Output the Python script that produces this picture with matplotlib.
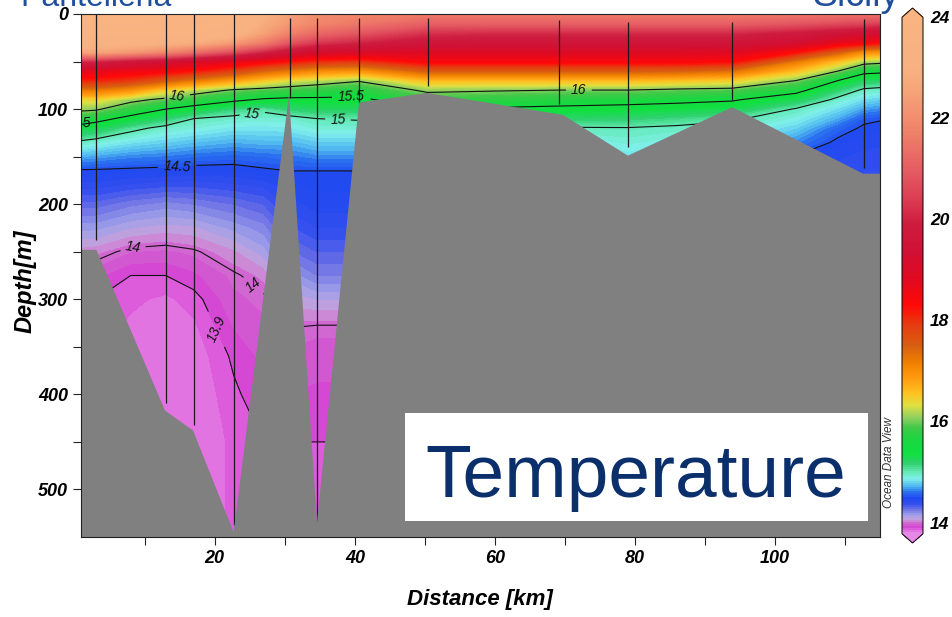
import numpy as np
import matplotlib
matplotlib.use("Agg")
import matplotlib.pyplot as plt
from matplotlib.colors import LinearSegmentedColormap, Normalize
from matplotlib.patches import Rectangle

# section grid: distance along the transect (km) and depth (m)
distance_km = [0.9, 3, 8, 13, 17, 22.7, 27, 30.7, 34.6, 40.6, 50.4, 60, 69.1, 79, 86, 93.9, 103, 109, 112.7, 115]
depth_m = [0, 10, 20, 30, 40, 50, 60, 70, 80, 90, 100, 110, 120, 135, 150, 165, 180, 200,
           225, 250, 275, 300, 330, 360, 400, 450, 500, 550]

# temperature (degC), one profile per distance, from surface to 550 m
temperature = [
    [24.0, 23.85, 23.6, 23.3, 22.5, 20.0, 18.7, 18.1, 17.2, 16.4, 16.07, 15.73, 15.35, 14.95, 14.7, 14.48, 14.4, 14.28, 14.15, 14.04, 13.96, 13.93, 13.92, 13.92, 13.92, 13.92, 13.92, 13.92],
    [24.0, 23.85, 23.6, 23.3, 22.5, 20.0, 18.7, 18.1, 17.2, 16.4, 16.05, 15.64, 15.28, 14.91, 14.68, 14.48, 14.4, 14.28, 14.15, 14.03, 13.95, 13.9, 13.88, 13.88, 13.88, 13.88, 13.88, 13.88],
    [24.0, 23.85, 23.6, 23.2, 22.2, 19.6, 18.55, 17.9, 16.95, 16.1, 15.75, 15.38, 15.06, 14.83, 14.63, 14.47, 14.37, 14.23, 14.1, 13.98, 13.9, 13.87, 13.85, 13.83, 13.83, 13.83, 13.83, 13.83],
    [24.0, 23.8, 23.55, 23.0, 21.8, 19.3, 18.4, 17.5, 16.45, 15.92, 15.5, 15.17, 14.94, 14.78, 14.61, 14.46, 14.35, 14.2, 14.08, 13.97, 13.9, 13.85, 13.83, 13.82, 13.82, 13.83, 13.83, 13.83],
    [24.0, 23.8, 23.5, 22.8, 21.3, 19.0, 18.2, 17.2, 16.2, 15.75, 15.36, 15.0, 14.9, 14.74, 14.58, 14.45, 14.35, 14.22, 14.09, 13.99, 13.93, 13.88, 13.85, 13.83, 13.82, 13.82, 13.82, 13.82],
    [23.7, 23.45, 23.2, 22.3, 20.6, 18.7, 17.8, 16.8, 15.96, 15.58, 15.14, 14.94, 14.84, 14.7, 14.56, 14.45, 14.37, 14.26, 14.15, 14.05, 13.99, 13.97, 13.94, 13.91, 13.89, 13.87, 13.87, 13.87],
    [23.0, 22.75, 22.4, 21.6, 20.0, 18.4, 17.4, 16.5, 15.88, 15.46, 15.04, 14.92, 14.84, 14.72, 14.58, 14.48, 14.39, 14.3, 14.2, 14.12, 14.03, 13.99, 13.97, 13.95, 13.93, 13.9, 13.89, 13.89],
    [22.4, 22.2, 21.7, 20.8, 19.5, 18.2, 17.2, 16.3, 15.83, 15.42, 15.17, 14.93, 14.85, 14.72, 14.6, 14.5, 14.45, 14.4, 14.33, 14.25, 14.15, 14.08, 14.0, 13.97, 13.94, 13.9, 13.89, 13.89],
    [22.0, 21.8, 21.2, 20.3, 19.1, 18.0, 17.0, 16.2, 15.75, 15.43, 15.22, 15.0, 14.91, 14.77, 14.64, 14.5, 14.47, 14.44, 14.38, 14.3, 14.22, 14.1, 13.99, 13.96, 13.93, 13.9, 13.89, 13.88],
    [21.8, 21.5, 20.8, 20.0, 19.0, 17.9, 16.9, 16.03, 15.7, 15.42, 15.22, 15.02, 14.91, 14.77, 14.64, 14.5, 14.47, 14.44, 14.38, 14.3, 14.22, 14.1, 13.99, 13.96, 13.93, 13.9, 13.89, 13.88],
    [21.6, 21.0, 20.2, 19.6, 18.9, 18.4, 17.5, 16.6, 16.07, 15.79, 15.45, 15.23, 15.0, 14.8, 14.6, 14.45, 14.4, 14.35, 14.3, 14.25, 14.2, 14.15, 14.1, 14.05, 14.02, 14.02, 14.02, 14.02],
    [21.6, 21.0, 20.1, 19.57, 18.9, 18.4, 17.5, 16.6, 16.03, 15.74, 15.45, 15.21, 14.98, 14.8, 14.62, 14.48, 14.4, 14.35, 14.3, 14.25, 14.2, 14.15, 14.1, 14.05, 14.02, 14.02, 14.02, 14.02],
    [21.6, 21.0, 20.1, 19.57, 18.9, 18.4, 17.5, 16.6, 16.0, 15.69, 15.41, 15.2, 14.98, 14.82, 14.66, 14.52, 14.42, 14.35, 14.3, 14.25, 14.2, 14.15, 14.1, 14.05, 14.02, 14.02, 14.02, 14.02],
    [21.6, 21.0, 20.1, 19.57, 18.9, 18.4, 17.5, 16.6, 16.0, 15.64, 15.38, 15.17, 14.99, 14.91, 14.83, 14.75, 14.68, 14.6, 14.5, 14.4, 14.3, 14.2, 14.1, 14.05, 14.02, 14.02, 14.02, 14.02],
    [21.6, 21.0, 20.1, 19.57, 18.9, 18.4, 17.45, 16.55, 15.93, 15.6, 15.34, 15.11, 14.96, 14.86, 14.78, 14.7, 14.62, 14.55, 14.5, 14.4, 14.3, 14.2, 14.1, 14.05, 14.02, 14.02, 14.02, 14.02],
    [21.6, 21.0, 20.1, 19.55, 18.85, 18.3, 17.3, 16.45, 15.89, 15.54, 15.28, 15.03, 14.93, 14.82, 14.72, 14.63, 14.55, 14.5, 14.45, 14.4, 14.3, 14.2, 14.1, 14.05, 14.02, 14.02, 14.02, 14.02],
    [21.5, 20.8, 19.8, 19.2, 18.27, 17.2, 16.56, 16.0, 15.62, 15.27, 14.98, 14.88, 14.78, 14.63, 14.49, 14.45, 14.42, 14.4, 14.35, 14.3, 14.25, 14.2, 14.15, 14.1, 14.05, 14.02, 14.02, 14.02],
    [21.45, 20.6, 19.5, 18.68, 17.5, 16.55, 16.0, 15.5, 15.17, 14.94, 14.81, 14.69, 14.56, 14.47, 14.43, 14.4, 14.38, 14.35, 14.3, 14.25, 14.2, 14.15, 14.1, 14.05, 14.02, 14.02, 14.02, 14.02],
    [21.4, 20.5, 19.3, 18.5, 17.0, 16.15, 15.61, 15.23, 14.96, 14.81, 14.67, 14.53, 14.48, 14.44, 14.4, 14.38, 14.37, 14.35, 14.3, 14.25, 14.2, 14.15, 14.1, 14.05, 14.02, 14.02, 14.02, 14.02],
    [21.4, 20.4, 19.2, 18.3, 16.9, 16.1, 15.58, 15.2, 14.93, 14.78, 14.64, 14.51, 14.47, 14.43, 14.4, 14.38, 14.37, 14.35, 14.3, 14.25, 14.2, 14.15, 14.1, 14.05, 14.02, 14.02, 14.02, 14.02],
]

# sea floor along the section
bottom_km = [0.0, 0.9, 3.1, 12.9, 16.9, 22.7, 30.6, 34.6, 40.6, 50.3, 69.7, 79.0, 93.9, 112.6, 116.0]
bottom_depth = [248, 248, 248, 417, 438, 545, 85, 535, 93, 83, 106, 149, 98, 168, 168]

# CTD casts
station_km = [3.0, 13.0, 17.0, 22.7, 30.7, 34.6, 40.6, 50.4, 69.1, 79.0, 93.9, 112.7]
station_top = [0, 0, 0, 0, 4, 4, 4, 4, 6, 8, 8, 5]
station_bottom = [238, 409, 432, 537, 88, 535, 94, 76, 95, 140, 90, 162]

line_levels = [13.9, 14, 14.5, 15, 15.5, 16]
label_pos = [(14.6, 85), (72, 81), (39.5, 86), (25.3, 101), (37.6, 111),
             (14.6, 159), (8.3, 245), (26.0, 281), (20.7, 330)]

# ODV-like palette
pal_t = [13.78, 13.82, 13.86, 13.9, 14.0, 14.04, 14.12, 14.24, 14.34, 14.45, 14.58, 14.7, 14.85,
         15.0, 15.15, 15.35, 15.6, 15.85, 16.05, 16.3, 16.55, 16.85, 17.15, 17.45, 17.85, 18.3,
         18.8, 19.3, 19.9, 20.2, 20.55, 20.9, 21.25, 21.7, 22.1, 22.5, 22.9, 24.0]
pal_c = ['#E688E6', '#E274E2', '#DC5CDC', '#D448D4', '#D070D0', '#C8A0DC', '#A0A0E8', '#6A70E6',
         '#3550EE', '#2048F0', '#2A70F0', '#50B8F0', '#80F0EC', '#60E8B0', '#30D070', '#10E040',
         '#18D840', '#40C848', '#90D060', '#E0E040', '#FFC020', '#FF9A10', '#F08000', '#D86010',
         '#E44010', '#FF0808', '#E00A20', '#D01034', '#CE1C3E', '#D6304C', '#DE4658', '#E55A62',
         '#EA6A66', '#EF8068', '#F39272', '#F6A478', '#F8B080', '#F9B482']
vmin, vmax = 13.78, 24.0
cmap = LinearSegmentedColormap.from_list(
    'odv', [((t - vmin) / (vmax - vmin), c) for t, c in zip(pal_t, pal_c)])
norm = Normalize(vmin, vmax)

font = ['Liberation Sans', 'DejaVu Sans']

X, Y = np.meshgrid(distance_km, depth_m)
T = np.array(temperature).T

fig = plt.figure(figsize=(9.52, 6.17), dpi=100)
ax = fig.add_axes([81 / 952, 1 - 537 / 617, 799 / 952, 523 / 617])

levels = np.arange(vmin, vmax + 0.001, 0.04)
cf = ax.contourf(X, Y, T, levels=levels, cmap=cmap, norm=norm, extend='both', zorder=1)
cs = ax.contour(X, Y, T, levels=line_levels, colors='#111111', linewidths=0.8, zorder=2)
lbls = ax.clabel(cs, fmt={13.9: '13.9', 14: '14', 14.5: '14.5', 15: '15', 15.5: '15.5', 16: '16'},
                 manual=label_pos, inline=True, inline_spacing=4, fontsize=10)
for t in lbls:
    t.set_fontstyle('italic')
    t.set_family(font)
    t.set_color('#111111')
    t.set_zorder(6)
ax.text(0.4, 115, '15.5', fontsize=10, style='italic', family=font, color='#111111',
        ha='center', va='center', rotation=5, clip_on=True, zorder=6)

ax.vlines(station_km, station_top, station_bottom, colors='#1a1a1a', linewidth=0.9, zorder=3)
ax.fill(bottom_km + [bottom_km[-1], bottom_km[0]], bottom_depth + [560, 560],
        color='#808080', lw=0, zorder=4)

ax.set_xlim(0.9, 115)
ax.set_ylim(550, 0)
xt = np.arange(10, 111, 10)
ax.set_xticks(xt)
ax.set_xticklabels([str(v) if v % 20 == 0 else '' for v in xt])
yt = np.arange(0, 501, 50)
ax.set_yticks(yt)
ax.set_yticklabels([str(v) if v % 100 == 0 else '' for v in yt])
ax.tick_params(direction='out', length=6, width=0.8, labelsize=13, color='#222222')
for t in ax.get_xticklabels() + ax.get_yticklabels():
    t.set_family(font)
    t.set_fontweight('bold')
    t.set_fontstyle('italic')
for s in ax.spines.values():
    s.set_linewidth(0.8)
    s.set_color('#222222')
    s.set_zorder(7)

cax = fig.add_axes([902 / 952, 1 - 543 / 617, 21 / 952, 535 / 617])
cb = fig.colorbar(cf, cax=cax, extend='both', extendfrac=0.018)
cb.set_ticks([14, 16, 18, 20, 22, 24])
cb.ax.tick_params(length=0, labelsize=12.5, pad=5)
for t in cb.ax.get_yticklabels():
    t.set_family(font)
    t.set_fontweight('bold')
    t.set_fontstyle('italic')
cb.outline.set_linewidth(0.7)

fig.text(25 / 952, 1 - 281 / 617, 'Depth[m]', rotation=90, ha='center', va='center',
         fontsize=17, fontweight='bold', style='italic', family=font)
fig.text(480 / 952, 1 - 600 / 617, 'Distance [km]', ha='center', va='center',
         fontsize=16, fontweight='bold', style='italic', family=font)
fig.text(889 / 952, 1 - 462 / 617, 'Ocean Data View', rotation=90, ha='center', va='center',
         fontsize=8.5, style='italic', family=font, color='#333333')

fig.text(20 / 952, 1 - 6 / 617, 'Pantelleria', ha='left', va='baseline', fontsize=23,
         color='#1F4E9A', family=font)
fig.text(812 / 952, 1 - 6 / 617, 'Sicily', ha='left', va='baseline', fontsize=27,
         color='#1F4E9A', family=font)

fig.add_artist(Rectangle((405 / 952, 1 - 521 / 617), 463 / 952, 108 / 617,
                         transform=fig.transFigure, facecolor='white', edgecolor='none', zorder=8))
fig.text(636 / 952, 1 - 497 / 617, 'Temperature', ha='center', va='baseline', fontsize=54,
         color='#0B2F6B', family=font, zorder=9)

fig.savefig('out.png', dpi=100)
